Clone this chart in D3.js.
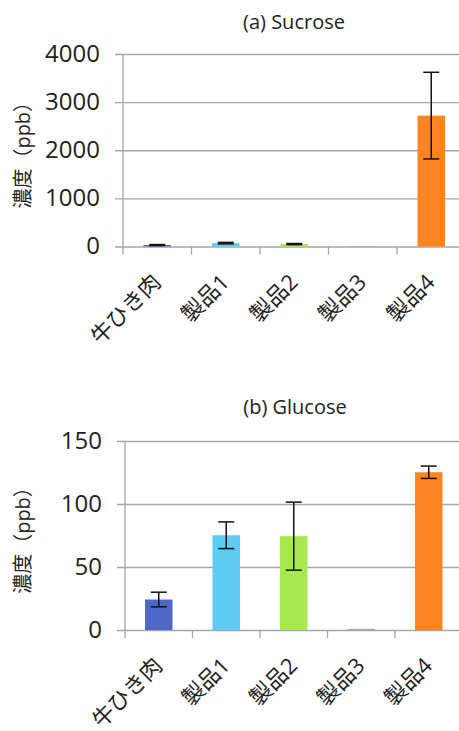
<!DOCTYPE html>
<html><head><meta charset="utf-8">
<script src="https://cdn.jsdelivr.net/npm/d3@7"></script>
<style>
body{margin:0;background:#fff;}
svg{display:block;}
text{font-family:"Open Sans","Noto Sans CJK JP",sans-serif;fill:#222;}
</style></head>
<body>
<svg id="c" width="459" height="731"></svg>
<script>
const categories = ["牛ひき肉","製品1","製品2","製品3","製品4"];
const sucroseValues = [30, 70, 50, 12, 2720];
const sucroseErrors = [10, 15, 12, 0, 900];
const sucroseTicks = [0, 1000, 2000, 3000, 4000];
const glucoseValues = [24.2, 75.2, 74.5, 0.9, 125.2];
const glucoseErrors = [5.8, 10.6, 27, 0, 4.9];
const glucoseTicks = [0, 50, 100, 150];
const colors = ["#4f68c8","#5ecbf2","#a8e84f","#a6a6a6","#ff8422"];
const yLabel = "濃度（ppb）";

const svg = d3.select("#c");

function panel(opt){
  const g = svg.append("g");
  const x = d3.scaleBand().domain(categories).range([opt.left, opt.left + opt.step*5]).paddingInner(0).paddingOuter(0);
  const y = d3.scaleLinear().domain([0, opt.max]).range([opt.bottom, opt.top]);
  const grid = "#a6a6a6";
  const yAxis = d3.axisLeft(y).tickValues(opt.ticks).tickFormat(d3.format("d"))
    .tickSize(-(459 - opt.left)).tickSizeOuter(0).tickPadding(23);
  const ya = g.append("g").attr("transform",`translate(${opt.left},0)`).call(yAxis);
  ya.select(".domain").remove();
  ya.selectAll(".tick line").attr("stroke",grid).attr("stroke-width",1.3).attr("x1",-8);
  ya.selectAll(".tick text").attr("font-size",24).attr("fill","#333").style("font-family",'"Open Sans",sans-serif').attr("dy","0.3em");
  g.append("line").attr("x1",opt.left).attr("x2",opt.left).attr("y1",opt.top).attr("y2",opt.bottom+8)
    .attr("stroke",grid).attr("stroke-width",1.3);
  const bounds = categories.map(c => x(c)).slice(1);
  g.selectAll(".xt").data(bounds).enter().append("line")
    .attr("x1",d=>d).attr("x2",d=>d).attr("y1",opt.bottom).attr("y2",opt.bottom+8)
    .attr("stroke",grid).attr("stroke-width",1.3);
  const bw = 27.5;
  g.selectAll(".bar").data(opt.values).enter().append("rect")
    .attr("x",(d,i)=>x(categories[i]) + x.bandwidth()/2 - bw/2)
    .attr("width",bw)
    .attr("y",d=>y(d))
    .attr("height",d=>y(0)-y(d))
    .attr("fill",(d,i)=>colors[i]);
  const eb = g.selectAll(".eb").data(opt.values.map((v,i)=>({v, e:opt.errors[i], c:categories[i]})).filter(d=>d.e>0))
    .enter().append("g").attr("stroke","#111").attr("stroke-width",1.5);
  const cw = 8;
  eb.append("line").attr("x1",d=>x(d.c)+x.bandwidth()/2).attr("x2",d=>x(d.c)+x.bandwidth()/2)
    .attr("y1",d=>y(d.v+d.e)).attr("y2",d=>y(d.v-d.e));
  eb.append("line").attr("x1",d=>x(d.c)+x.bandwidth()/2-cw).attr("x2",d=>x(d.c)+x.bandwidth()/2+cw)
    .attr("y1",d=>y(d.v+d.e)).attr("y2",d=>y(d.v+d.e));
  eb.append("line").attr("x1",d=>x(d.c)+x.bandwidth()/2-cw).attr("x2",d=>x(d.c)+x.bandwidth()/2+cw)
    .attr("y1",d=>y(d.v-d.e)).attr("y2",d=>y(d.v-d.e));
  g.selectAll(".xl").data(categories).enter().append("text")
    .attr("text-anchor","end").attr("font-size",22)
    .attr("transform",d=>`translate(${x(d)+x.bandwidth()/2+5},${opt.bottom+37}) rotate(-45)`)
    .text(d=>d);
  g.append("text").attr("x",opt.titleX).attr("y",opt.titleY).attr("text-anchor","middle").attr("font-size",20).text(opt.title);
  g.append("text").attr("text-anchor","middle").attr("font-size",20)
    .attr("transform",`translate(30,${(opt.top+opt.bottom)/2}) rotate(-90)`).text(yLabel);
}

panel({title:"(a) Sucrose", titleX:294, titleY:29, left:123, step:68.5, top:54, bottom:246.5, max:4000,
  ticks:sucroseTicks, values:sucroseValues, errors:sucroseErrors});
panel({title:"(b) Glucose", titleX:295, titleY:414, left:125, step:67.5, top:441, bottom:630, max:150,
  ticks:glucoseTicks, values:glucoseValues, errors:glucoseErrors});
</script>
</body></html>
